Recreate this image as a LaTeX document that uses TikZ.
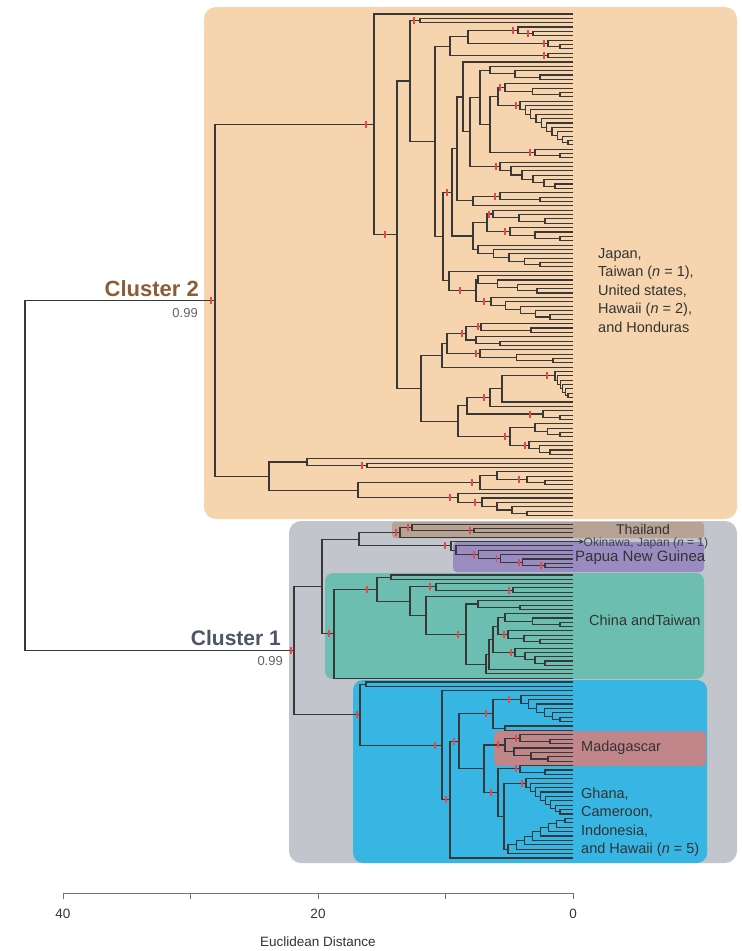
\documentclass[tikz,border=0pt]{standalone}
\usepackage{fontspec}
\setmainfont{Liberation Sans}
\usetikzlibrary{calc,arrows.meta}
\definecolor{orbg}{HTML}{F6D5AE}
\definecolor{grbg}{HTML}{C2C5CB}
\definecolor{thbg}{HTML}{B8A293}
\definecolor{pubg}{HTML}{9A8CC0}
\definecolor{tebg}{HTML}{6CBFB0}
\definecolor{blbg}{HTML}{37B5E3}
\definecolor{mabg}{HTML}{C0868A}
\definecolor{tkred}{HTML}{E8474C}
\definecolor{ctwo}{HTML}{8C5E38}
\definecolor{cone}{HTML}{4C5666}
\definecolor{txtc}{HTML}{333333}
\newif\ifcbtick
\newcommand\dgleaf[2]{\coordinate (#1) at (573,#2);}
\newcommand\dgjoin[4]{\draw[br] let \p1=(#2),\p2=(#3) in (\p1) -- (#1pt,\y1) -- (#1pt,\y2) -- (\p2) ($(#1pt,\y1)!0.5!(#1pt,\y2)$) coordinate (#4);}
\newcommand\dgcomb[6]{%
  \pgfmathsetmacro\cbdy{(#5-(#4))/(#6-1)}%
  \xdef\cbm{#5}\xdef\cbx{573}%
  \foreach \ci in {2,...,#6}{%
    \pgfmathsetmacro\cby{#5-(\ci-1)*\cbdy}%
    \pgfmathsetmacro\cbxn{#3+(#2-(#3))*(\ci-2)/max(#6-2,1)}%
    \draw[br] (573,\cby) -- (\cbxn,\cby) -- (\cbxn,\cbm) -- (\cbx,\cbm);%
    \ifcbtick\ifdim\cbx pt<572pt\draw[tk] ({\cbx-4},{\cbm-3.5}) -- ({\cbx-4},{\cbm+3.5});\fi\fi
    \pgfmathsetmacro\cbnm{(\cby+\cbm)/2}%
    \xdef\cbm{\cbnm}\xdef\cbx{\cbxn}%
  }%
  \coordinate (#1) at (\cbx,\cbm);%
}
\newcommand\dgcombt[6]{\cbticktrue\dgcomb{#1}{#2}{#3}{#4}{#5}{#6}\cbtickfalse}
\newcommand\dgtick[2]{\draw[tk] let \p1=(#1) in (#2pt,{\y1+3.5pt}) -- (#2pt,{\y1-3.5pt});}
\tikzset{
  br/.style={draw=black!78, line width=1.1pt},
  tk/.style={draw=tkred, line width=1.6pt},
  lbl/.style={inner sep=0pt, text=txtc, font=\fontsize{14.5}{17}\selectfont},
  axisln/.style={draw=black!55, line width=1pt},
}
\begin{document}
\begin{tikzpicture}[x=1pt,y=-1pt]
\useasboundingbox (0,0) rectangle (742,951);
\fill[white] (0,0) rectangle (742,951);
% background boxes
\fill[orbg, rounded corners=12pt] (204,7) rectangle (737,519);
\fill[grbg, rounded corners=12pt] (289,521) rectangle (737,863);
\fill[thbg, rounded corners=3pt] (392,522) rectangle (704,538);
\fill[pubg, rounded corners=4pt] (453,542) rectangle (704,572);
\fill[tebg, rounded corners=8pt] (325,573) rectangle (704,679);
\fill[blbg, rounded corners=10pt] (353,680) rectangle (707,863);
\fill[mabg, rounded corners=4pt] (494,731) rectangle (706,766);
% ===== Cluster 2 =====
\dgleaf{l14}{14}
\dgcomb{c1}{420}{420}{18.3}{22.7}{2}
\dgleaf{l27}{27}
\dgcomb{p31}{533}{533}{31.4}{35.8}{2}
\dgjoin{518}{l27}{p31}{f1}
\dgcomb{f2}{548}{560}{40.1}{48.9}{3}
\dgjoin{468}{f1}{f2}{ff}
\dgcomb{e2}{548}{548}{53.2}{57.6}{2}
\dgjoin{450}{ff}{e2}{ee}
% G block
\dgleaf{g0}{62.0}
\dgcomb{g1a}{490}{540}{66.3}{79.4}{4}
\dgcomb{g1b1}{505}{560}{83.8}{96.8}{4}
\dgcomb{g1b2}{520}{568}{101.2}{144.8}{11}
\dgcomb{g1b3}{535}{560}{149.2}{157.9}{3}
\dgjoin{498}{g1b1}{g1b2}{g1b12}
\dgjoin{490}{g1b12}{g1b3}{g1b}
\dgcomb{g1c}{500}{555}{162.2}{188.4}{7}
\dgjoin{480}{g1a}{g1b}{g1ab}
\dgjoin{470}{g1ab}{g1c}{g1}
\dgjoin{463}{g0}{g1}{gA}
\dgcomb{g2}{500}{540}{192.8}{201.5}{3}
\dgleaf{g2l}{205.8}
\dgjoin{473}{g2}{g2l}{g2x}
\dgjoin{457}{gA}{g2x}{gB}
\dgcomb{g3a1}{493}{545}{210.2}{223.3}{4}
\dgcomb{g3a2}{510}{560}{227.6}{240.7}{4}
\dgjoin{487}{g3a1}{g3a2}{g3a}
\dgcomb{g3b}{478}{540}{245.1}{266.9}{6}
\dgjoin{473}{g3a}{g3b}{g3}
\dgjoin{452}{gB}{g3}{gGa}
\dgleaf{g4l}{271.2}
\dgcomb{g4a}{478}{537}{275.6}{293.0}{5}
\dgcomb{g4b}{491}{550}{297.4}{319.2}{6}
\dgjoin{476}{g4a}{g4b}{g4ab}
\dgjoin{449}{g4l}{g4ab}{g4}
\dgjoin{443}{gGa}{g4}{gG}
\dgjoin{435}{ee}{gG}{dd}
\dgjoin{410}{c1}{dd}{cc}
% H block
\dgcomb{hAa}{481}{531}{323.6}{332.3}{3}
\dgcomb{hAb}{476}{500}{336.7}{345.4}{3}
\dgjoin{466}{hAa}{hAb}{hA1}
\dgcomb{hA2}{480}{553}{349.7}{362.8}{4}
\dgjoin{447}{hA1}{hA2}{hA}
\dgleaf{h1l}{367.2}
\dgjoin{442}{hA}{h1l}{h1}
\dgcomb{hBa}{555}{568}{371.5}{397.6}{7}
\dgleaf{hBl}{402.0}
\dgjoin{502}{hBa}{hBl}{hBb}
\dgleaf{hBm}{406.4}
\dgjoin{490}{hBb}{hBm}{hBc}
\dgcomb{hBd}{543}{560}{410.7}{419.5}{3}
\dgjoin{467}{hBc}{hBd}{h2a}
\dgcomb{hCa}{535}{560}{423.8}{436.9}{4}
\dgcomb{hCb}{529}{550}{441.2}{454.4}{4}
\dgjoin{510}{hCa}{hCb}{h2b}
\dgjoin{458}{h2a}{h2b}{h2}
\dgjoin{421}{h1}{h2}{hh}
\dgjoin{397}{cc}{hh}{bb}
\dgjoin{374}{l14}{bb}{aa}
% Z block
\dgleaf{z1l}{458.7}
\dgcomb{z1p}{367}{367}{463.1}{467.4}{2}
\dgjoin{307}{z1l}{z1p}{z1}
\dgleaf{zal}{471.8}
\dgcomb{zac}{527}{545}{476.2}{484.9}{3}
\dgjoin{497}{zal}{zac}{za1}
\dgleaf{zal2}{489.2}
\dgjoin{480}{za1}{zal2}{za}
\dgleaf{zbl}{493.6}
\dgcomb{zbc}{482}{527}{498.0}{515.4}{5}
\dgjoin{458}{zbl}{zbc}{zb}
\dgjoin{358}{za}{zb}{z2}
\dgjoin{269}{z1}{z2}{zz}
\dgjoin{215}{aa}{zz}{cltwo}
% ===== Cluster 1 =====
\dgleaf{t1}{524.1}
\dgcomb{tp}{474}{474}{528.5}{532.9}{2}
\dgjoin{412}{t1}{tp}{tx}
\dgleaf{t4}{537.2}
\dgjoin{400}{tx}{t4}{th}
\dgleaf{ok}{541.6}
\dgcombt{pu}{456}{545}{545.9}{567.8}{6}
\dgjoin{451}{ok}{pu}{okpu}
\dgjoin{359}{th}{okpu}{kup}
% teal
\dgcomb{tq1}{391}{391}{575}{579.3}{2}
\dgleaf{tq2}{583.6}
\dgcomb{tq3}{513}{513}{587.9}{592.2}{2}
\dgjoin{436}{tq2}{tq3}{tq23}
\dgleaf{tq4}{596.5}
\dgcomb{tba}{478}{520}{600.8}{609.4}{3}
\dgcomb{tbb1}{505}{560}{613.7}{626.6}{4}
\dgcomb{tbb2}{508}{540}{630.9}{643.8}{4}
\dgcomb{tbb3}{515}{545}{648.1}{665.3}{5}
\dgleaf{tbl1}{669.6}
\dgleaf{tbl2}{673.9}
\dgjoin{498}{tbb1}{tbb2}{tj1}
\dgjoin{493}{tj1}{tbb3}{tj2}
\dgjoin{489}{tj2}{tbl1}{tj3}
\dgjoin{486}{tj3}{tbl2}{tj4}
\dgjoin{466}{tba}{tj4}{tb}
\dgjoin{426}{tq4}{tb}{tq4b}
\dgjoin{410}{tq23}{tq4b}{t1b}
\dgjoin{377}{tq1}{t1b}{t1n}
\dgleaf{tbot}{678.2}
\dgjoin{334}{t1n}{tbot}{klow}
\dgjoin{322}{kup}{klow}{kk}
% blue
\dgcomb{m1}{366}{366}{682}{686.4}{2}
\dgleaf{m2l}{690.8}
\dgcomb{m5a}{521}{560}{695.2}{721.6}{7}
\dgcomb{m5b}{505}{505}{726}{730.4}{2}
\dgjoin{493}{m5a}{m5b}{m5}
\dgcomb{mg1}{520}{550}{734.8}{743.6}{3}
\dgcomb{mg2}{514}{548}{748}{761.2}{4}
\dgjoin{505}{mg1}{mg2}{mg}
\dgcomb{gh1}{520}{545}{765.6}{774.4}{3}
\dgcomb{ghA}{526}{560}{778.8}{814}{9}
\dgcomb{ghB}{508}{565}{853.6}{818.4}{9}
\dgjoin{504}{ghA}{ghB}{ghg}
\dgjoin{498}{gh1}{ghg}{gh}
\dgjoin{484}{mg}{gh}{m6}
\dgjoin{459}{m5}{m6}{m4}
\dgleaf{mbot}{858}
\dgjoin{450}{m4}{mbot}{m3}
\dgjoin{442}{m2l}{m3}{m2}
\dgjoin{360}{m1}{m2}{mm}
\dgjoin{294}{kk}{mm}{clone}
\dgjoin{25}{cltwo}{clone}{root}
\draw[br, -{Stealth[length=5pt,width=4.5pt]}] (ok) -- ++(11,0) coordinate (okend);
% ===== red ticks =====
\dgtick{cltwo}{211} \dgtick{clone}{291}
\dgtick{aa}{366} \dgtick{bb}{385}
\dgtick{c1}{414} \dgtick{f1}{513} \dgtick{p31}{528} \dgtick{f2}{544} \dgtick{e2}{544}
\dgtick{g1b1}{500} \dgtick{g1b2}{516} \dgtick{g1b3}{530} \dgtick{g1c}{496}
\dgtick{g2}{495} \dgtick{g3a1}{489} \dgtick{g3a2}{505} \dgtick{gGa}{447}
\dgtick{g4ab}{460} \dgtick{g4b}{484}
\dgtick{hA1}{462} \dgtick{hAa}{478} \dgtick{hA2}{476}
\dgtick{hBc}{484} \dgtick{hBa}{547} \dgtick{hBd}{530} \dgtick{h2b}{505} \dgtick{hCb}{525}
\dgtick{z1p}{362} \dgtick{za}{472} \dgtick{zac}{519} \dgtick{zb}{450} \dgtick{zbc}{475}
\dgtick{th}{396} \dgtick{tx}{408} \dgtick{tp}{470} \dgtick{okpu}{445}
\dgtick{klow}{329} \dgtick{t1n}{367} \dgtick{tq23}{430} \dgtick{tq3}{509} \dgtick{tb}{458}
\dgtick{tbb2}{504} \dgtick{tbb3}{511}
\dgtick{mm}{357} \dgtick{m2}{435} \dgtick{m3}{446} \dgtick{m4}{454} \dgtick{m5}{486}
\dgtick{m5a}{509} \dgtick{mg}{498} \dgtick{mg1}{516} \dgtick{gh}{491} \dgtick{gh1}{516} \dgtick{ghA}{522}
% ===== labels =====
\node[inner sep=0pt, anchor=base east, text=ctwo, font=\bfseries\fontsize{22}{26}\selectfont] (labc2) at (199,296) {Cluster 2};
\node[inner sep=0pt, anchor=base east, text=black!60, font=\fontsize{13}{15}\selectfont] (labc2v) at (198,317) {0.99};
\node[inner sep=0pt, anchor=base east, text=cone, font=\bfseries\fontsize{21}{25}\selectfont] (labc1) at (281,645) {Cluster 1};
\node[inner sep=0pt, anchor=base east, text=black!60, font=\fontsize{13}{15}\selectfont] (labc1v) at (283,665) {0.99};
\node[lbl, anchor=base west] (o1) at (598,258) {Japan,};
\node[lbl, anchor=base west] (o2) at (598,276.5) {Taiwan (\textit{n} = 1),};
\node[lbl, anchor=base west] (o3) at (598,295) {United states,};
\node[lbl, anchor=base west] (o4) at (598,313.5) {Hawaii (\textit{n} = 2),};
\node[lbl, anchor=base west] (o5) at (598,332) {and Honduras};
\node[lbl, anchor=base, font=\fontsize{14}{16}\selectfont] (thl) at (643,534) {Thailand};
\node[lbl, anchor=west, text=cone!80!black, font=\fontsize{12}{14}\selectfont] (okl) at (583.5,543) {Okinawa, Japan (\textit{n} = 1)};
\node[lbl, anchor=west, font=\fontsize{15}{17}\selectfont, text=black!80] (pul) at (575,557.5) {Papua New Guinea};
\node[lbl, anchor=west] (chl) at (589,620) {China andTaiwan};
\node[lbl, anchor=west] (mal) at (581,748) {Madagascar};
\node[lbl, anchor=base west] (gh1l) at (581,798) {Ghana,};
\node[lbl, anchor=base west] (gh2l) at (581,816.5) {Cameroon,};
\node[lbl, anchor=base west] (gh3l) at (581,835) {Indonesia,};
\node[lbl, anchor=base west] (gh4l) at (581,853.5) {and Hawaii (\textit{n} = 5)};
% ===== axis =====
\draw[axisln] (63,893) coordinate (ax0) -- (573,893) coordinate (ax1);
\foreach \tx in {63,190.5,318,445.5,573} \draw[axisln] (\tx,893) -- (\tx,899);
\node[lbl, anchor=base, font=\fontsize{13.5}{16}\selectfont] (a40) at (63,918) {40};
\node[lbl, anchor=base, font=\fontsize{13.5}{16}\selectfont] (a20) at (318,918) {20};
\node[lbl, anchor=base, font=\fontsize{13.5}{16}\selectfont] (a0) at (573,918) {0};
\node[lbl, anchor=base, font=\fontsize{13.5}{16}\selectfont] (axl) at (318,946) {Euclidean Distance};
\end{tikzpicture}
\end{document}
